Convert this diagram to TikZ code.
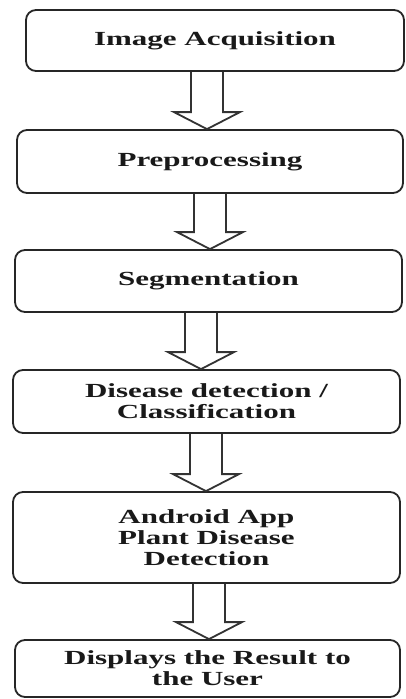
\documentclass[tikz,border=0pt]{standalone}
\usepackage{fontspec}
\setmainfont{Liberation Serif}[FakeStretch=1.55]
\usetikzlibrary{calc}
\tikzset{
  stage/.style={draw=black!85, line width=1.8pt, rounded corners=10pt, inner sep=0pt,
    align=center, text=black!90, font=\fontsize{20}{21}\selectfont\bfseries},
  arr/.style={draw=black!80, line width=1.8pt, line join=miter}
}
\newcommand\blockarr[3]{%
  \draw[arr] let \p1=(#1.south), \p2=(#2.north) in
    ({#3-16},\y1) -- ({#3-16},\y2+17pt) -- ({#3-33},\y2+17pt) -- (#3,\y2)
    -- ({#3+33},\y2+17pt) -- ({#3+16},\y2+17pt) -- ({#3+16},\y1);}
\begin{document}
\begin{tikzpicture}[x=1pt,y=-1pt]
\useasboundingbox[fill=white] (0,0) rectangle (405,699);
\node[stage, minimum width=378pt, minimum height=61pt] (b1) at (215,40.5) {Image Acquisition};
\node[stage, minimum width=386pt, minimum height=63pt] (b2) at (210,161.5) {Preprocessing};
\node[stage, minimum width=387pt, minimum height=62pt] (b3) at (208.5,281) {Segmentation};
\node[stage, minimum width=387pt, minimum height=63pt] (b4) at (206.5,401.5) {Disease detection /\\Classification};
\node[stage, minimum width=387pt, minimum height=91pt] (b5) at (206.5,537.5) {Android App\\Plant Disease\\Detection};
\node[stage, minimum width=385pt, minimum height=57pt] (b6) at (207.5,668.5) {Displays the Result to\\the User};
\blockarr{b1}{b2}{207}
\blockarr{b2}{b3}{210}
\blockarr{b3}{b4}{201}
\blockarr{b4}{b5}{206}
\blockarr{b5}{b6}{209}
\end{tikzpicture}
\end{document}
